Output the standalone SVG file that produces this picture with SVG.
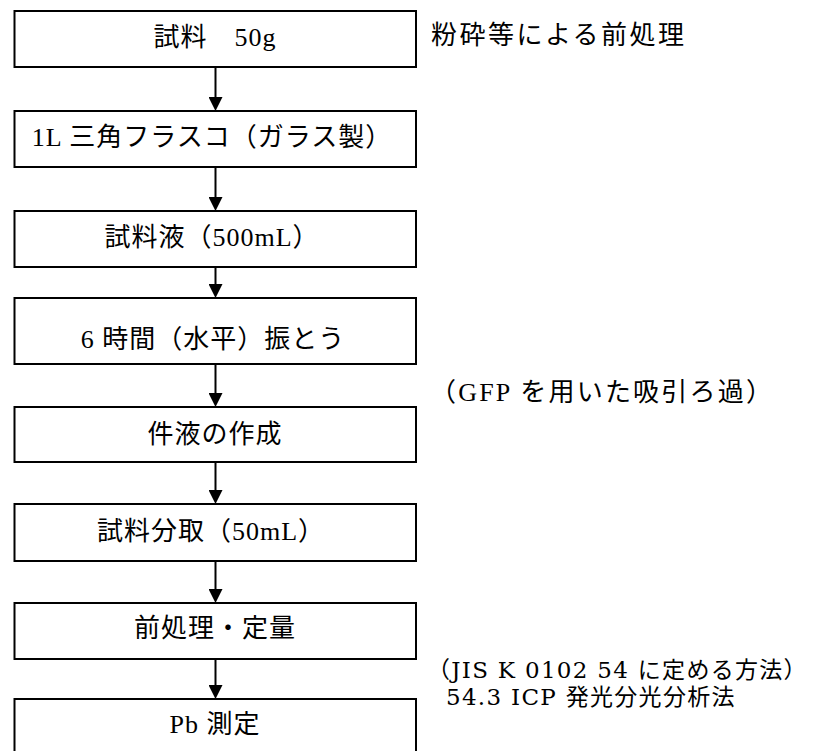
<svg xmlns="http://www.w3.org/2000/svg" width="835" height="751" viewBox="0 0 835 751">
<style>
.box{fill:#fff;stroke:#000;stroke-width:2}
.t{font-family:"Liberation Serif","Noto Sans CJK JP",serif;font-size:26px;fill:#000;letter-spacing:1px}
.s{font-size:23px;letter-spacing:1.3px}
.w{font-family:"DejaVu Serif","Noto Sans CJK JP",serif}
.c{text-anchor:middle}
.con line{stroke:#000;stroke-width:2}
</style>
<defs>
<marker id="ah" markerUnits="userSpaceOnUse" markerWidth="14" markerHeight="14" refX="7" refY="7" orient="auto" viewBox="0 0 14 14">
<path d="M0,0 L14,7 L0,14 z" fill="#000"/>
</marker>
</defs>
<rect width="835" height="751" fill="#fff"/>
<g class="con">
<line x1="215.5" y1="67" x2="215.5" y2="104" marker-end="url(#ah)"/>
<line x1="215.5" y1="167" x2="215.5" y2="204" marker-end="url(#ah)"/>
<line x1="215.5" y1="267" x2="215.5" y2="291" marker-end="url(#ah)"/>
<line x1="215.5" y1="364" x2="215.5" y2="400" marker-end="url(#ah)"/>
<line x1="215.5" y1="462" x2="215.5" y2="497" marker-end="url(#ah)"/>
<line x1="215.5" y1="561" x2="215.5" y2="596" marker-end="url(#ah)"/>
<line x1="215.5" y1="659" x2="215.5" y2="692" marker-end="url(#ah)"/>
</g>
<g id="n1"><rect class="box" x="14.5" y="11" width="401.5" height="56"/><text class="t c" x="215" y="46" xml:space="preserve">試料　50g</text></g>
<g id="n2"><rect class="box" x="14.5" y="111" width="401.5" height="56"/><text class="t c" x="212" y="146">1L 三角フラスコ（ガラス製）</text></g>
<g id="n3"><rect class="box" x="14.5" y="211" width="401.5" height="56"/><text class="t c" x="212" y="246">試料液（500mL）</text></g>
<g id="n4"><rect class="box" x="14.5" y="298" width="401.5" height="66"/><text class="t c" x="213" y="348">6 時間（水平）振とう</text></g>
<g id="n5"><rect class="box" x="14.5" y="407" width="401.5" height="55"/><text class="t c" x="215" y="443">件液の作成</text></g>
<g id="n6"><rect class="box" x="14.5" y="504" width="401.5" height="57"/><text class="t c" x="211" y="540">試料分取（50mL）</text></g>
<g id="n7"><rect class="box" x="14.5" y="603" width="401.5" height="56"/><text class="t c" x="215" y="637">前処理・定量</text></g>
<g id="n8"><rect class="box" x="14.5" y="699" width="401.5" height="70"/><text class="t c" x="215" y="733">Pb 測定</text></g>
<g id="notes">
<text class="t" x="431" y="44" textLength="254" lengthAdjust="spacing">粉砕等による前処理</text>
<text class="t" x="430" y="401" textLength="343" lengthAdjust="spacing">（GFP を用いた吸引ろ過）</text>
<text class="t s w" x="427" y="678">（JIS K 0102 54 に定める方法）</text>
<text class="t s w" x="446" y="705">54.3 ICP 発光分光分析法</text>
</g>
</svg>
